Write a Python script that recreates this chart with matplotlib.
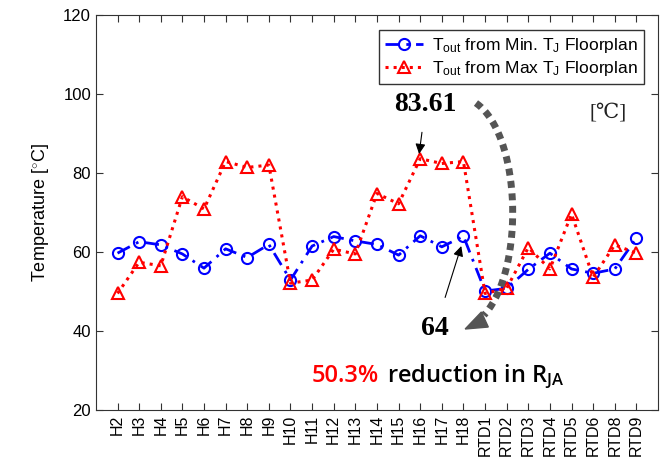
import matplotlib
matplotlib.use("Agg")
import numpy as np
import matplotlib.pyplot as plt
from matplotlib.patches import Polygon

plt.rcParams['font.family'] = ['Liberation Sans', 'DejaVu Sans']
plt.rcParams['mathtext.fontset'] = 'custom'
plt.rcParams['mathtext.rm'] = 'Liberation Sans'
plt.rcParams['mathtext.it'] = 'Liberation Sans'
plt.rcParams['mathtext.bf'] = 'Open Sans:semibold'

labels = ['H2', 'H3', 'H4', 'H5', 'H6', 'H7', 'H8', 'H9', 'H10', 'H11', 'H12',
          'H13', 'H14', 'H15', 'H16', 'H17', 'H18', 'RTD1', 'RTD2', 'RTD3',
          'RTD4', 'RTD5', 'RTD6', 'RTD8', 'RTD9']
t_min = [59.7, 62.6, 61.8, 59.5, 55.9, 60.8, 58.6, 61.9, 52.9, 61.5, 63.9,
         62.8, 61.9, 59.2, 64.1, 61.3, 64.0, 50.1, 50.8, 55.6,
         59.7, 55.7, 54.6, 55.7, 63.5]
t_max = [49.5, 57.4, 56.5, 74.0, 70.9, 82.9, 81.4, 82.0, 52.1, 52.9, 60.7,
         59.5, 74.8, 72.2, 83.61, 82.4, 82.9, 49.5, 50.8, 61.1,
         55.7, 69.6, 53.6, 61.8, 59.7]

x = list(range(1, len(labels) + 1))

fig = plt.figure(figsize=(6.66, 4.62), dpi=100)
ax = fig.add_axes([0.144, 0.1126, 0.844, 0.855])

ax.plot(x, t_min, linestyle=(0, (5, 2.5, 1, 2.5)), color='blue', lw=2, marker='o',
        markersize=8, markerfacecolor='none', markeredgewidth=1.5,
        label=r'T$_{\mathregular{out}}$ from Min. T$_{\mathregular{J}}$ Floorplan')
ax.plot(x, t_max, linestyle=':', color='red', lw=2.2, marker='^',
        markersize=8, markerfacecolor='none', markeredgewidth=1.5,
        label=r'T$_{\mathregular{out}}$ from Max T$_{\mathregular{J}}$ Floorplan')

ax.set_xlim(0, 26)
ax.set_ylim(20, 120)
ax.set_xticks(x)
ax.set_xticklabels(labels, rotation=90, fontsize=11.5)
ax.set_yticks(range(20, 121, 20))
ax.tick_params(axis='y', labelsize=12)
ax.tick_params(direction='in', top=True, right=True, length=5, color='#333333')
for s in ax.spines.values():
    s.set_color('#333333')
ax.set_ylabel(r'Temperature [$^{\circ}$C]', fontsize=13, labelpad=9)

leg = ax.legend(loc='upper right', fontsize=12.5, fancybox=False,
                edgecolor='#333333', framealpha=1, handlelength=2.2,
                borderpad=0.35, labelspacing=0.25, handletextpad=0.5,
                bbox_to_anchor=(0.99, 0.985))
leg.get_frame().set_linewidth(1.0)

# annotations
ax.annotate('83.61', xy=(x[14] - 0.05, t_max[14] + 1.2), xytext=(15.25, 97.3),
            fontsize=20, fontweight='bold', family='Liberation Serif',
            ha='center', va='center',
            arrowprops=dict(arrowstyle='-|>', color='black', lw=0.8,
                            mutation_scale=15, shrinkA=9, shrinkB=0))
ax.annotate('64', xy=(x[16] - 0.1, t_min[16] - 2.5), xytext=(15.7, 40.6),
            fontsize=20, fontweight='bold', family='Liberation Serif',
            ha='center', va='center',
            arrowprops=dict(arrowstyle='-|>', color='black', lw=0.8,
                            mutation_scale=15, shrinkA=12, shrinkB=0))

# curved dotted arrow (cubic bezier)
p0 = np.array([17.58, 97.7])
p1 = np.array([19.70, 89.6])
p2 = np.array([19.85, 55.4])
p3 = np.array([17.95, 44.0])
t = np.linspace(0, 1, 300)[:, None]
curve = ((1 - t) ** 3 * p0 + 3 * (1 - t) ** 2 * t * p1
         + 3 * (1 - t) * t ** 2 * p2 + t ** 3 * p3)
ax.plot(curve[:, 0], curve[:, 1], color='#555555', lw=5,
        linestyle=(0, (1.0, 0.8)), dash_capstyle='butt')
head = Polygon([[17.08, 40.5], [17.83, 44.8], [18.15, 41.0]], closed=True,
               color='#555555')
ax.add_patch(head)

ax.text(23.7, 95.2, '[℃]', fontsize=15, family=['Liberation Serif', 'DejaVu Serif'],
        ha='center', va='center', color='#222222')

fig.text(0.4685, 0.1732, '50.3%', color='red', fontsize=17, fontweight='semibold',
         ha='left', va='baseline', family='Open Sans')
fig.text(0.5806, 0.1732, r'reduction in R$_{\mathbf{JA}}$', color='black',
         fontsize=17, fontweight='semibold', ha='left', va='baseline', family='Open Sans')

fig.savefig('out.png', dpi=100)
